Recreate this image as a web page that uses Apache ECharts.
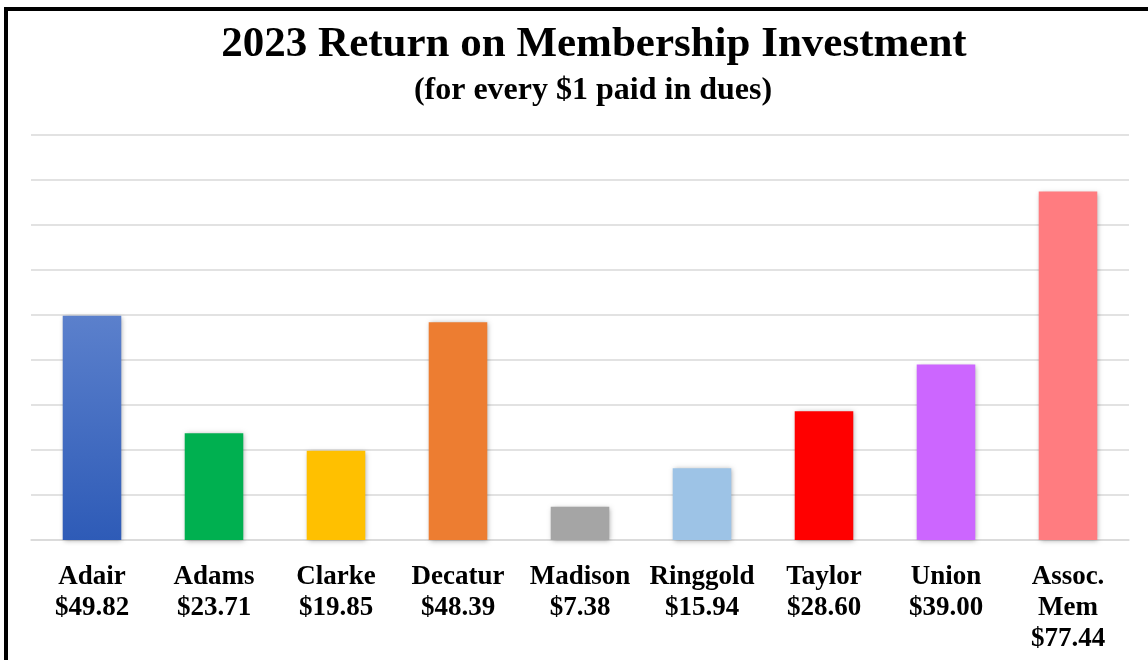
<!DOCTYPE html>
<html>
<head>
<meta charset="utf-8">
<script src="https://cdn.jsdelivr.net/npm/echarts@6/dist/echarts.min.js"></script>
<style>
  html, body { margin: 0; padding: 0; background: #fff; }
  #chart { width: 1148px; height: 660px; }
</style>
</head>
<body>
<div id="chart"></div>
<script>
var counties = ['Adair', 'Adams', 'Clarke', 'Decatur', 'Madison', 'Ringgold', 'Taylor', 'Union', 'Assoc. Mem'];
var returns = [49.82, 23.71, 19.85, 48.39, 7.38, 15.94, 28.60, 39.00, 77.44];
var barColors = ['#2f5cb8', '#00b050', '#ffc000', '#ed7d31', '#a5a5a5', '#9dc3e6', '#ff0000', '#cc66ff', '#ff7c80'];

var myChart = echarts.init(document.getElementById('chart'));

var serif = '"Liberation Serif", "DejaVu Serif", serif';

var option = {
    animation: false,
    title: [{
        text: '2023 Return on Membership Investment',
        left: 589,
        top: 18,
        textAlign: 'center',
        textStyle: { fontFamily: serif, fontWeight: 'bold', fontSize: 43, color: '#000' }
    }, {
        text: '(for every $1 paid in dues)',
        left: 588,
        top: 70,
        textAlign: 'center',
        textStyle: { fontFamily: serif, fontWeight: 'bold', fontSize: 32, color: '#000' }
    }],
    grid: { left: 31, right: 19, top: 135, bottom: 120 },
    xAxis: {
        type: 'category',
        data: counties,
        axisLine: { lineStyle: { color: '#d9d9d9', width: 1.5 } },
        axisTick: { show: false },
        axisLabel: {
            interval: 0,
            margin: 22,
            fontFamily: serif,
            fontWeight: 'bold',
            fontSize: 27,
            lineHeight: 31,
            color: '#000',
            formatter: function(name, i) {
                return name.split(' ').join('\n') + '\n$' + returns[i].toFixed(2);
            }
        }
    },
    yAxis: {
        type: 'value',
        min: 0,
        max: 90,
        interval: 10,
        axisLine: { show: false },
        axisTick: { show: false },
        axisLabel: { show: false },
        splitLine: { lineStyle: { color: '#d9d9d9', width: 1.5 } }
    },
    series: [{
        type: 'bar',
        barWidth: '48%',
        data: returns.map(function(v, i) {
            var color = barColors[i];
            if (i === 0) {
                // Adair bar has a light-to-dark gradient
                color = new echarts.graphic.LinearGradient(0, 0, 0, 1, [
                    { offset: 0, color: '#5b80cc' },
                    { offset: 1, color: '#2e5bb7' }
                ]);
            }
            return {
                value: v,
                itemStyle: {
                    color: color,
                    shadowBlur: 5,
                    shadowColor: 'rgba(0,0,0,0.35)',
                    shadowOffsetX: 1,
                    shadowOffsetY: 1
                }
            };
        })
    }],
    graphic: [{
        type: 'rect',
        shape: { x: 6, y: 9, width: 1170, height: 680 },
        style: { fill: 'none', stroke: '#000', lineWidth: 4 },
        silent: true
    }]
};
myChart.setOption(option);
</script>
</body>
</html>
